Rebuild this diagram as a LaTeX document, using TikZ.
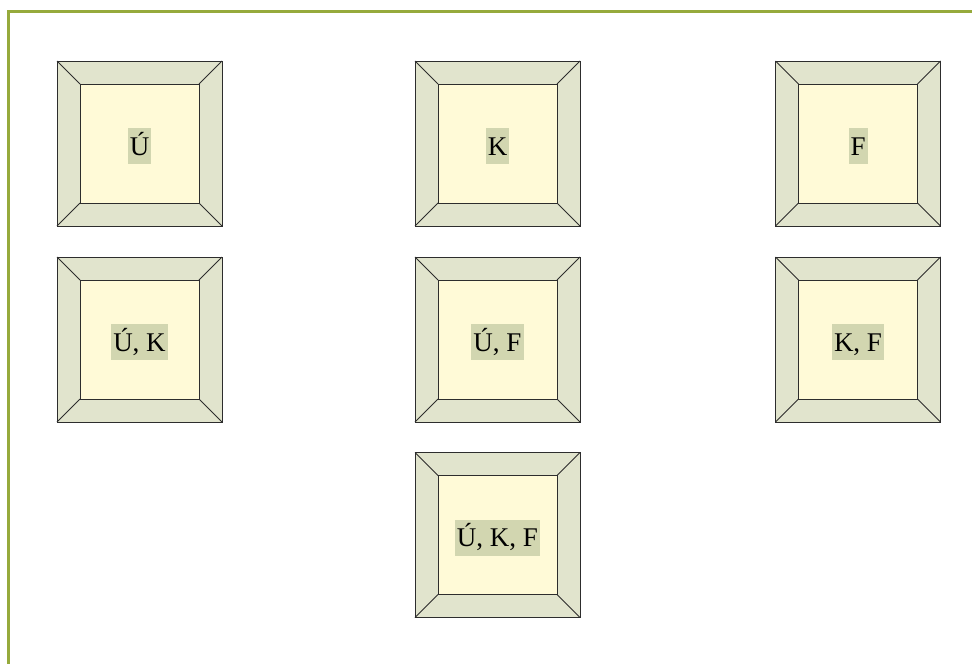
\documentclass[tikz,border=0pt]{standalone}
\usepackage{fontspec}
\setmainfont{Liberation Serif}
\definecolor{framegreen}{RGB}{150,170,60}
\definecolor{bezelgray}{RGB}{225,228,205}
\definecolor{facecream}{RGB}{255,250,215}
\definecolor{labelsage}{RGB}{210,214,176}
\definecolor{edgedark}{RGB}{45,45,45}

\begin{document}
\begin{tikzpicture}[x=1pt,y=-1pt,
    bezel/.style={draw=edgedark,fill=bezelgray,line width=0.9pt,minimum size=165pt,inner sep=0pt,outer sep=0pt},
    face/.style={draw=edgedark,fill=facecream,line width=0.9pt,minimum size=119pt,inner sep=0pt,outer sep=0pt},
    keylabel/.style={fill=labelsage,inner xsep=2pt,inner ysep=0pt,text height=27pt,text depth=9pt,yshift=-2.5pt,font=\fontsize{27}{32}\selectfont}]
    \useasboundingbox (0,0) rectangle (972,664);

    % Frame
    \draw[framegreen,line width=2.5pt] (8.5,664) -- (8.5,11.5) -- (972,11.5);

    % Keys
    \foreach \name/\x/\y/\txt in {u/139.5/143.5/Ú, k/497.5/143.5/K, f/858/143.5/F,
        uk/139.5/339.5/{Ú, K}, uf/497.5/339.5/{Ú, F}, kf/858/339.5/{K, F},
        ukf/497.5/535/{Ú, K, F}}
    {
        \node[bezel] (\name-b) at (\x,\y) {};
        \node[face] (\name-f) at (\x,\y) {};
        \node[keylabel] (\name-t) at (\name-f) {\txt};
        \foreach \c in {north west,north east,south west,south east}
            \draw[edgedark,line width=0.9pt] (\name-b.\c) -- (\name-f.\c);
    }
\end{tikzpicture}
\end{document}
